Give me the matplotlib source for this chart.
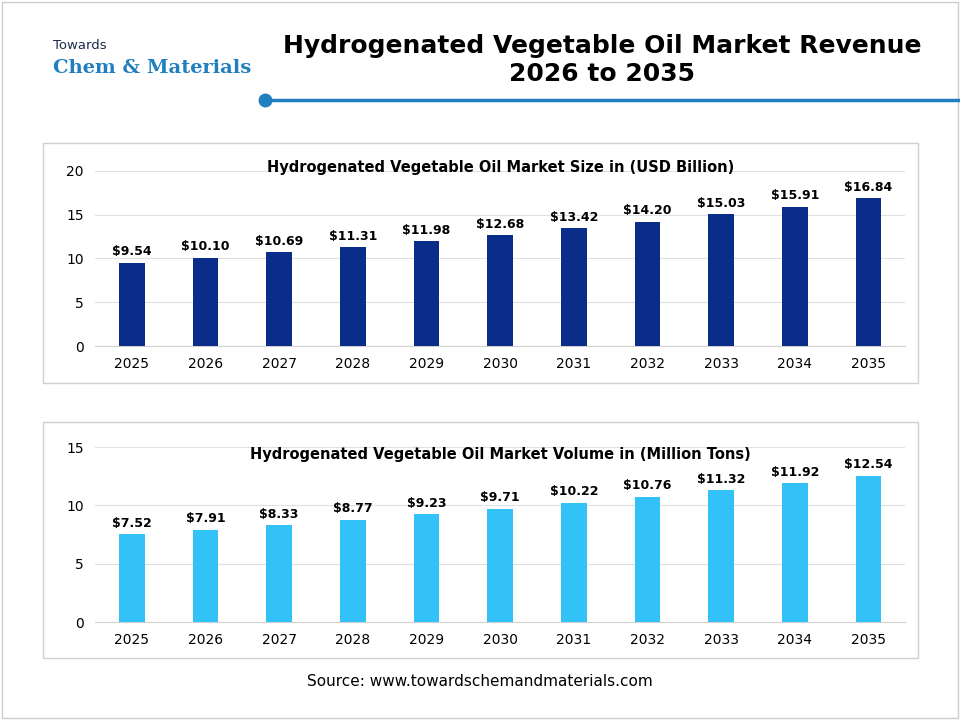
import matplotlib.pyplot as plt
from matplotlib.patches import Rectangle

years = ['2025', '2026', '2027', '2028', '2029', '2030', '2031', '2032', '2033', '2034', '2035']
revenue = [9.54, 10.10, 10.69, 11.31, 11.98, 12.68, 13.42, 14.20, 15.03, 15.91, 16.84]
volume = [7.52, 7.91, 8.33, 8.77, 9.23, 9.71, 10.22, 10.76, 11.32, 11.92, 12.54]

fig = plt.figure(figsize=(9.6, 7.2), dpi=100)
fig.patch.set_facecolor('white')

# outer frame
fig.patches.append(Rectangle((0.002, 0.003), 0.996, 0.994, transform=fig.transFigure,
                             fill=False, edgecolor='#cccccc', linewidth=1))

# logo text
fig.text(0.055, 0.932, 'Towards', fontsize=9.5, color='#1a2a4a', ha='left')
fig.text(0.055, 0.899, 'Chem & Materials', fontsize=14, color='#1f7fc0', ha='left',
         family='DejaVu Serif', fontweight='bold')

# main title
fig.text(0.627, 0.917, 'Hydrogenated Vegetable Oil Market Revenue\n2026 to 2035',
         fontsize=18, fontweight='bold', ha='center', va='center', linespacing=1.2)
fig.add_artist(plt.Line2D([0.276, 0.998], [0.861, 0.861], color='#1f7fc0', linewidth=2.5))
fig.add_artist(plt.Line2D([0.276], [0.861], marker='o', markersize=9, color='#1f7fc0'))

# panel boxes
for y0, h in [(0.468, 0.333), (0.086, 0.328)]:
    fig.patches.append(Rectangle((0.045, y0), 0.911, h, transform=fig.transFigure,
                                 fill=False, edgecolor='#d0d0d0', linewidth=1))


def draw(ax, values, color, ymax, step, title, title_y):
    x = range(len(years))
    bars = ax.bar(x, values, width=0.35, color=color, zorder=3)
    for b, v in zip(bars, values):
        ax.text(b.get_x() + b.get_width() / 2, v + ymax * 0.025, f'${v:.2f}',
                ha='center', va='bottom', fontsize=9, fontweight='bold')
    ax.set_ylim(0, ymax)
    ax.set_yticks(range(0, ymax + 1, step))
    ax.set_xticks(list(x))
    ax.set_xticklabels(years)
    ax.set_xlim(-0.5, len(years) - 0.5)
    ax.grid(axis='y', color='#e0e0e0', linewidth=0.8, zorder=0)
    for s in ['top', 'right', 'left']:
        ax.spines[s].set_visible(False)
    ax.spines['bottom'].set_color('#d0d0d0')
    ax.tick_params(length=0, labelsize=10, pad=8)
    ax.text(0.5, title_y, title, transform=ax.transAxes, ha='center', va='center',
            fontsize=10.5, fontweight='bold')


ax1 = fig.add_axes([0.099, 0.519, 0.844, 0.244])
draw(ax1, revenue, '#0a2d8a', 20, 5, 'Hydrogenated Vegetable Oil Market Size in (USD Billion)', 1.02)

ax2 = fig.add_axes([0.099, 0.136, 0.844, 0.243])
draw(ax2, volume, '#33c2f7', 15, 5, 'Hydrogenated Vegetable Oil Market Volume in (Million Tons)', 0.955)

fig.text(0.5, 0.047, 'Source: www.towardschemandmaterials.com', ha='center', fontsize=11)

fig.savefig('out.png', dpi=100)
